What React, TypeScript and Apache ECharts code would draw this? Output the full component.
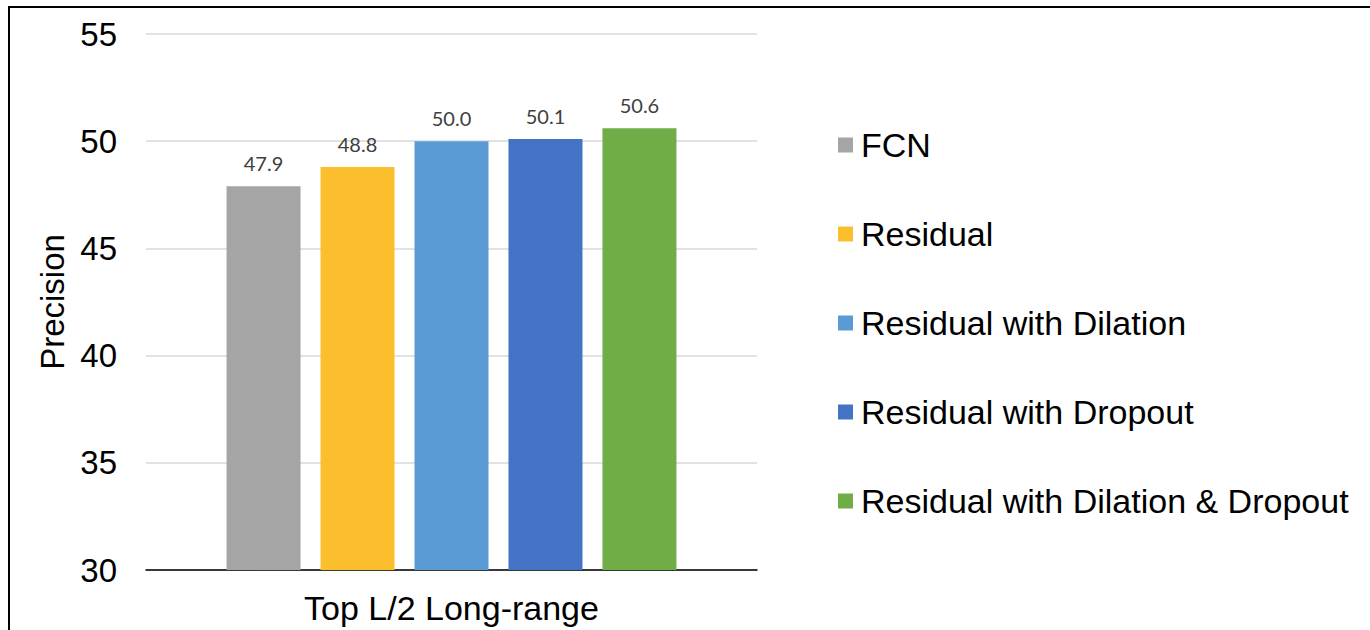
import React, { useEffect, useRef } from "react";
import * as echarts from "echarts";

const categories = ["Top L/2 Long-range"];
const seriesNames = [
  "FCN",
  "Residual",
  "Residual with Dilation",
  "Residual with Dropout",
  "Residual with Dilation & Dropout",
];
const seriesValues = [47.9, 48.8, 50.0, 50.1, 50.6];
const seriesColors = ["#A5A5A5", "#FBBF2E", "#5B9BD5", "#4472C4", "#70AD47"];
const yMin = 30;
const yMax = 55;
const yInterval = 5;

export default function App() {
  const ref = useRef<HTMLDivElement>(null);
  useEffect(() => {
    if (!ref.current) return;
    const chart = echarts.init(ref.current, undefined, { renderer: "svg" });
    const font = "'Liberation Sans', Arial, sans-serif";
    chart.setOption({
      animation: false,
      backgroundColor: "#ffffff",
      graphic: [
        {
          type: "rect",
          shape: { x: 9, y: 7, width: 1420, height: 700 },
          style: { fill: "none", stroke: "#000000", lineWidth: 2 },
          silent: true,
        },
      ],
      grid: { left: 146, top: 34, width: 611, height: 536, containLabel: false },
      legend: {
        orient: "vertical",
        left: 833,
        top: 123,
        itemWidth: 15,
        itemHeight: 15,
        itemGap: 55,
        icon: "rect",
        textStyle: {
          fontFamily: font,
          fontSize: 34,
          lineHeight: 34,
          color: "#000000",
          padding: [0, 0, 0, 3],
        },
        data: seriesNames,
      },
      xAxis: {
        type: "category",
        data: categories,
        axisLine: { lineStyle: { color: "#000000", width: 1.5 } },
        axisTick: { show: false },
        axisLabel: { fontFamily: font, fontSize: 34, color: "#000000", margin: 21 },
      },
      yAxis: {
        type: "value",
        min: yMin,
        max: yMax,
        interval: yInterval,
        name: "Precision",
        nameLocation: "middle",
        nameGap: 77,
        nameRotate: 90,
        nameTextStyle: { fontFamily: font, fontSize: 33, color: "#000000" },
        axisLine: { show: false },
        axisTick: { show: false },
        axisLabel: { fontFamily: font, fontSize: 33, color: "#000000", margin: 29 },
        splitLine: { lineStyle: { color: "#d9d9d9", width: 1.5 } },
      },
      series: seriesNames.map((name, i) => ({
        name,
        type: "bar",
        barWidth: 74,
        barGap: "27%",
        data: [seriesValues[i]],
        itemStyle: { color: seriesColors[i] },
        label: {
          show: true,
          position: "top",
          distance: 13,
          fontFamily: "Lato, 'Open Sans', sans-serif",
          fontSize: 20,
          color: "#404040",
          formatter: (p: any) => Number(p.value).toFixed(1),
        },
      })),
    });
    return () => chart.dispose();
  }, []);
  return (
    <div
      ref={ref}
      style={{ position: "absolute", left: 0, top: 0, width: 1370, height: 630 }}
    />
  );
}
